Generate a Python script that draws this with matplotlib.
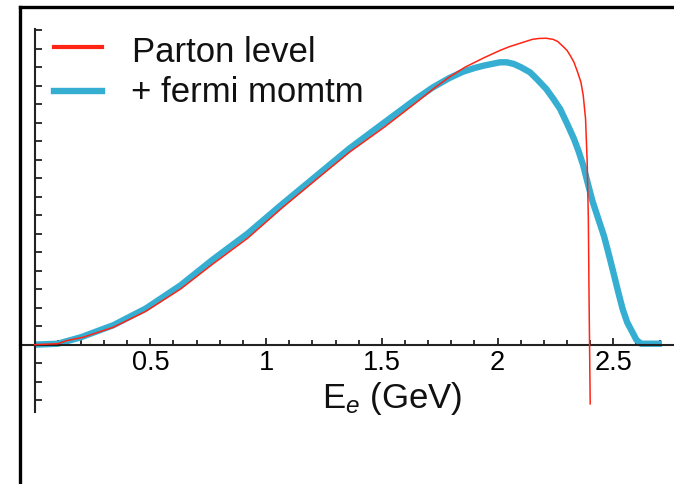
import numpy as np
import matplotlib
matplotlib.use("Agg")
import matplotlib.pyplot as plt
from matplotlib.lines import Line2D
from matplotlib.ticker import MultipleLocator, FixedLocator

plt.rcParams["font.family"] = ["Liberation Sans", "DejaVu Sans"]
plt.rcParams["mathtext.fontset"] = "custom"
plt.rcParams["mathtext.rm"] = "Liberation Sans"
plt.rcParams["mathtext.it"] = "Liberation Sans:italic"

# Parton level spectrum (arbitrary units)
parton_e = [0.00, 0.10, 0.14, 0.21, 0.34, 0.48, 0.63, 0.77, 0.92, 1.07,
            1.22, 1.36, 1.51, 1.65, 1.72, 1.79, 1.86, 1.94, 2.01, 2.05,
            2.10, 2.15, 2.18, 2.21, 2.24, 2.26, 2.28, 2.30, 2.315, 2.33,
            2.345, 2.36, 2.37, 2.38, 2.387, 2.392, 2.395, 2.40]
parton_y = [0.00, 0.05, 0.22, 0.40, 0.94, 1.80, 3.00, 4.36, 5.75, 7.40,
            8.96, 10.40, 11.75, 13.10, 13.80, 14.45, 15.00, 15.50, 15.90, 16.10,
            16.30, 16.50, 16.55, 16.56, 16.50, 16.38, 16.15, 15.90, 15.60, 15.26,
            14.75, 14.18, 13.46, 12.20, 9.86, 6.80, 2.65, -3.20]

# with fermi motion
fermi_e = [0.00, 0.10, 0.20, 0.34, 0.48, 0.63, 0.77, 0.92, 1.07, 1.22,
           1.36, 1.51, 1.65, 1.72, 1.79, 1.85, 1.90, 1.94, 2.01, 2.04,
           2.07, 2.10, 2.14, 2.17, 2.21, 2.24, 2.27, 2.30, 2.33, 2.35,
           2.37, 2.39, 2.41, 2.435, 2.46, 2.48, 2.50, 2.52, 2.54, 2.56,
           2.59, 2.60, 2.62, 2.71]
fermi_y = [0.00, 0.05, 0.40, 1.05, 1.95, 3.20, 4.60, 6.00, 7.60, 9.15,
           10.60, 12.00, 13.30, 13.90, 14.40, 14.75, 14.95, 15.08, 15.26, 15.26,
           15.17, 15.00, 14.72, 14.35, 13.82, 13.30, 12.74, 11.95, 11.12, 10.45,
           9.68, 8.70, 7.75, 6.80, 5.85, 4.90, 3.91, 2.90, 1.93, 1.20,
           0.49, 0.25, 0.05, 0.05]

x_ticks = [0.5, 1, 1.5, 2, 2.5]
x_ticklabels = ["0.5", "1", "1.5", "2", "2.5"]

RED = "#ff2414"
BLUE = "#35aed2"

W, H = 674, 485
fig = plt.figure(figsize=(W / 100, H / 100), dpi=100)

# axes box in pixels: left 20, right 674, top 30, bottom 413
ax = fig.add_axes([20 / W, (H - 413) / H, 654 / W, 383 / H])
ax.set_xlim(-0.063, 2.762)
ax.set_ylim(-3.64, 17.06)

ax.plot(fermi_e, fermi_y, color=BLUE, lw=4.6, solid_capstyle="butt",
        solid_joinstyle="round", zorder=2)
ax.plot(parton_e, parton_y, color=RED, lw=1.1, zorder=3)

for s in ["top", "right"]:
    ax.spines[s].set_visible(False)
ax.spines["left"].set_position(("data", 0))
ax.spines["bottom"].set_position(("data", 0))
for s in ["left", "bottom"]:
    ax.spines[s].set_linewidth(1.5)
    ax.spines[s].set_color("#222222")

ax.xaxis.set_major_locator(FixedLocator(x_ticks))
ax.set_xticklabels(x_ticklabels)
ax.xaxis.set_minor_locator(FixedLocator([v / 10 for v in range(1, 28) if v % 5]))
ax.yaxis.set_major_locator(MultipleLocator(1))
ax.set_yticklabels([])
ax.tick_params(axis="both", which="both", direction="in", color="#222222", width=1.3)
ax.tick_params(axis="x", which="major", length=5, labelsize=19.5, pad=3)
ax.tick_params(axis="x", which="minor", length=3.5)
ax.tick_params(axis="y", which="major", length=5)

# outer frame (left and top edges only)
fig.add_artist(Line2D([20 / W, 20 / W], [0, 1 - 8 / H], color="black", lw=2.4,
                      transform=fig.transFigure, solid_capstyle="projecting"))
fig.add_artist(Line2D([20 / W, 1], [1 - 8 / H, 1 - 8 / H], color="black", lw=2.4,
                      transform=fig.transFigure, solid_capstyle="projecting"))

# x label
fig.text(392 / W, 1 - 408 / H, r"E$_e$ (GeV)", ha="center", va="baseline",
         fontsize=25, color="#111111")

# legend drawn by hand
fig.add_artist(Line2D([54 / W, 102 / W], [1 - 48 / H, 1 - 48 / H], color=RED,
                      lw=3, transform=fig.transFigure))
fig.add_artist(Line2D([54 / W, 102 / W], [1 - 92 / H, 1 - 92 / H], color=BLUE,
                      lw=4.6, transform=fig.transFigure))
fig.text(132 / W, 1 - 61.5 / H, "Parton level", ha="left", va="baseline",
         fontsize=25, color="#111111")
fig.text(131 / W, 1 - 101.5 / H, "+ fermi momtm", ha="left", va="baseline",
         fontsize=25, color="#111111")

fig.savefig("out.png", dpi=100)
